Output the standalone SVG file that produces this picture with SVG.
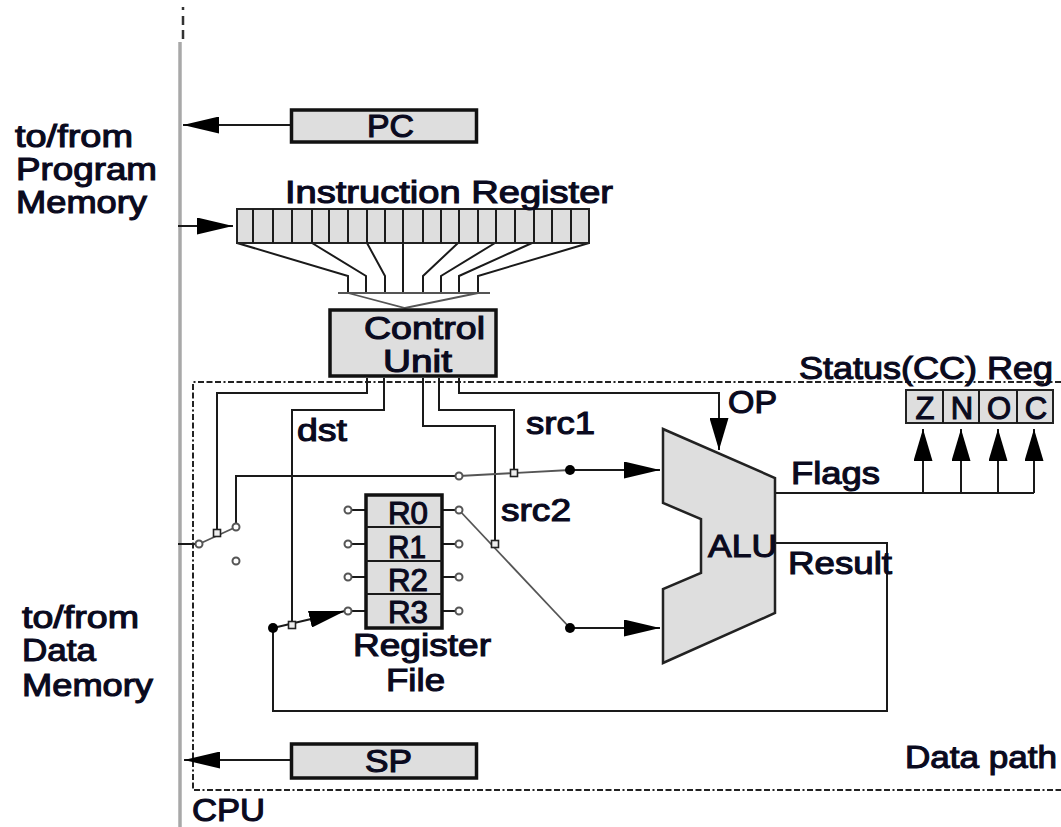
<svg xmlns="http://www.w3.org/2000/svg" width="1061" height="827" viewBox="0 0 1061 827">
<defs>
<style>
text{font-family:"Liberation Sans",Arial,sans-serif;font-size:31px;fill:#0a0a1e;stroke:#0a0a1e;stroke-width:1.1}
.m{text-anchor:middle}
.box{fill:#dedede;stroke:#111;stroke-width:3.5}
.thin{fill:#dedede;stroke:#222;stroke-width:2}
.l{fill:none;stroke:#1a1a1a;stroke-width:2}
.a{fill:none;stroke:#1a1a1a;stroke-width:2;marker-end:url(#h)}
.v{fill:none;stroke:#1a1a1a;stroke-width:2;marker-end:url(#hv)}
.g{fill:none;stroke:#555;stroke-width:1.8}
.o{fill:#fff;stroke:#555;stroke-width:2}
.s{fill:#eee;stroke:#222;stroke-width:1.6}
</style>
<marker id="h" markerUnits="userSpaceOnUse" viewBox="0 0 36 17" refX="36" refY="8.500" markerWidth="36" markerHeight="17" orient="auto"><polygon points="0,0 36,8.500 0,17" fill="#000"/></marker>
<marker id="hv" markerUnits="userSpaceOnUse" viewBox="0 0 32 19" refX="32" refY="9.500" markerWidth="32" markerHeight="19" orient="auto"><polygon points="0,0 32,9.500 0,19" fill="#000"/></marker>
</defs>
<rect width="1061" height="827" fill="#fff"/>
<g id="bus">
<path d="M180 42V827" fill="none" stroke="#a8a8a8" stroke-width="3.500"/>
<path d="M183 7V41" fill="none" stroke="#333" stroke-width="2.500" stroke-dasharray="3 6 9 5 9 3"/>
</g>
<g id="data-path-frame">
<path d="M1061 382H193V790H1061" fill="none" stroke="#222" stroke-width="2" stroke-dasharray="6 2.500 6 2.500 6 2.500 2 2.500"/>
</g>
<g id="connectors">
<path class="a" d="M290 125H183"/>
<path class="a" d="M178 226H233"/>
<path class="a" d="M290 760H184"/>
<path class="l" d="M237 243L348 276V293M312 243L366 276V293M367 243L385 276V293M403 243V293M458 243L423 276V293M495 243L441 276V293M532 243L459 276V293M589 243L478 276V293"/>
<path class="g" d="M338 293H490M348 293L405 308L478 293"/>
<path class="l" d="M367 378V393H217V533"/>
<path class="l" d="M384 378V410H292V625"/>
<path class="l" d="M423 378V426H495V544"/>
<path class="l" d="M439 378V410H514V473"/>
<path class="v" d="M459 378V393H719V450"/>
<path class="l" d="M178 544H199"/>
<path class="g" d="M199 544L236 527"/>
<path class="l" d="M236 527V476H459"/>
<path class="g" d="M459 476L570 470"/>
<path class="a" d="M570 470H660"/>
<path class="g" d="M459 510L570 628"/>
<path class="a" d="M570 628H660"/>
<path class="l" d="M775 543H887V711H273V628"/>
<path class="a" d="M273 628L345 611"/>
<path class="l" d="M775 493H1034"/>
<path class="v" d="M923 493V429"/>
<path class="v" d="M961 493V429"/>
<path class="v" d="M998 493V429"/>
<path class="v" d="M1034 493V429"/>
<path class="l" d="M350 510H366M350 544H366M350 577H366M350 611H366M442 510H457M442 544H457M442 577H457M442 611H457"/>
<circle class="o" cx="199" cy="544" r="3.500"/><circle class="o" cx="236" cy="527" r="3.500"/><circle class="o" cx="236" cy="561" r="3.500"/><circle class="o" cx="459" cy="476" r="3.500"/>
<rect class="s" x="213.500" y="529.500" width="7" height="7"/>
<rect class="s" x="510.500" y="469.500" width="7" height="7"/>
<rect class="s" x="491.500" y="540.500" width="7" height="7"/>
<rect class="s" x="288.500" y="621.500" width="7" height="7"/>
<circle cx="570" cy="470" r="5" fill="#000"/><circle cx="570" cy="628" r="5" fill="#000"/><circle cx="273" cy="628" r="5" fill="#000"/>
</g>
<g id="pc"><rect class="box" x="291.500" y="110" width="185" height="32"/><text x="367" y="137" textLength="47" lengthAdjust="spacingAndGlyphs">PC</text></g>
<g id="instruction-register">
<rect class="thin" x="237" y="209" width="352" height="34"/>
<path class="l" d="M253 209v34M273 209v34M292 209v34M312 209v34M329 209v34M348 209v34M367 209v34M385 209v34M403 209v34M423 209v34M441 209v34M459 209v34M478 209v34M496 209v34M515 209v34M534 209v34M552 209v34M571 209v34"/>
<text x="285" y="203" textLength="328" lengthAdjust="spacingAndGlyphs">Instruction Register</text>
</g>
<g id="control-unit"><rect class="box" x="330" y="310" width="166" height="66"/><text x="364" y="339" textLength="121" lengthAdjust="spacingAndGlyphs">Control</text><text x="383" y="372" textLength="69" lengthAdjust="spacingAndGlyphs">Unit</text></g>
<g id="register-file">
<rect class="box" x="366" y="495" width="76" height="133"/>
<path class="l" d="M366 527H442M366 561H442M366 594H442"/>
<text x="388" y="524" textLength="40" lengthAdjust="spacingAndGlyphs">R0</text>
<text x="388" y="558" textLength="38" lengthAdjust="spacingAndGlyphs">R1</text>
<text x="388" y="591" textLength="40" lengthAdjust="spacingAndGlyphs">R2</text>
<text x="388" y="623" textLength="40" lengthAdjust="spacingAndGlyphs">R3</text>
<circle class="o" cx="348" cy="510" r="3.500"/><circle class="o" cx="348" cy="544" r="3.500"/><circle class="o" cx="348" cy="577" r="3.500"/><circle class="o" cx="348" cy="611" r="3.500"/>
<circle class="o" cx="459" cy="510" r="3.500"/><circle class="o" cx="459" cy="544" r="3.500"/><circle class="o" cx="459" cy="577" r="3.500"/><circle class="o" cx="459" cy="611" r="3.500"/>
<text x="353" y="656" textLength="138" lengthAdjust="spacingAndGlyphs">Register</text><text x="386" y="691" textLength="59" lengthAdjust="spacingAndGlyphs">File</text>
</g>
<g id="alu"><polygon points="663,429 775,478 775,613 663,663 663,589 701,573 701,519 663,503" fill="#dedede" stroke="#222" stroke-width="2.500"/><text x="708" y="557" textLength="69" lengthAdjust="spacingAndGlyphs">ALU</text></g>
<g id="status-register">
<rect class="thin" x="906" y="390" width="147" height="33"/>
<path class="l" d="M943 390v33M979 390v33M1017 390v33"/>
<text class="m" x="925" y="419">Z</text><text class="m" x="962" y="419">N</text><text class="m" x="999" y="419">O</text><text class="m" x="1036" y="419">C</text>
<text x="799" y="379" textLength="254" lengthAdjust="spacingAndGlyphs">Status(CC) Reg</text>
</g>
<g id="sp"><rect class="box" x="291.500" y="744" width="185" height="34"/><text x="365" y="772" textLength="47" lengthAdjust="spacingAndGlyphs">SP</text></g>
<g id="labels">
<text x="15" y="147" textLength="118" lengthAdjust="spacingAndGlyphs">to/from</text>
<text x="16" y="180" textLength="141" lengthAdjust="spacingAndGlyphs">Program</text>
<text x="16" y="213" textLength="131" lengthAdjust="spacingAndGlyphs">Memory</text>
<text x="22" y="628" textLength="117" lengthAdjust="spacingAndGlyphs">to/from</text>
<text x="22" y="661" textLength="74" lengthAdjust="spacingAndGlyphs">Data</text>
<text x="22" y="696" textLength="131" lengthAdjust="spacingAndGlyphs">Memory</text>
<text x="297" y="441" textLength="50" lengthAdjust="spacingAndGlyphs">dst</text>
<text x="526" y="434" textLength="69" lengthAdjust="spacingAndGlyphs">src1</text>
<text x="501" y="521" textLength="70" lengthAdjust="spacingAndGlyphs">src2</text>
<text x="728" y="413" textLength="49" lengthAdjust="spacingAndGlyphs">OP</text>
<text x="791" y="484" textLength="89" lengthAdjust="spacingAndGlyphs">Flags</text>
<text x="788" y="574" textLength="104" lengthAdjust="spacingAndGlyphs">Result</text>
<text x="905" y="768" textLength="152" lengthAdjust="spacingAndGlyphs">Data path</text>
<text x="192" y="821" textLength="73" lengthAdjust="spacingAndGlyphs">CPU</text>
</g>
</svg>
